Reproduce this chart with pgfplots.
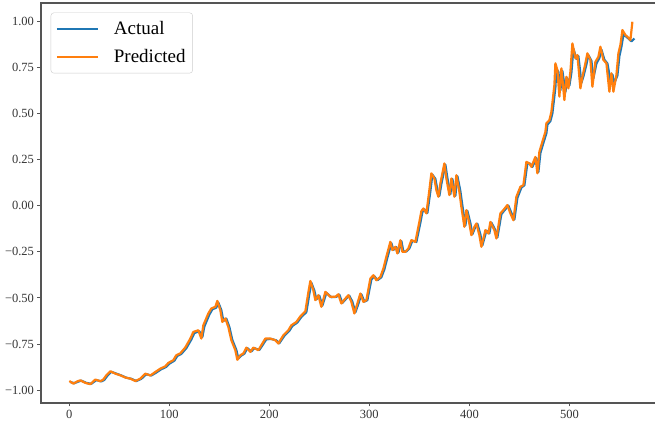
\documentclass[border=0pt]{standalone}
\usepackage{fontspec}
\setmainfont{Liberation Serif}
\usepackage{pgfplots}
\usepackage{pgfplotstable}
\pgfplotsset{compat=1.18}
\definecolor{tabblue}{HTML}{1F77B4}
\definecolor{taborange}{HTML}{FF7F0E}
\definecolor{spine}{HTML}{555555}

\pgfplotstableread{
x y
1 -0.955
5 -0.962
9 -0.953
12 -0.948
17 -0.960
22 -0.965
27 -0.945
32 -0.952
35 -0.944
38 -0.922
42 -0.900
47 -0.910
52 -0.920
57 -0.932
62 -0.938
67 -0.950
72 -0.938
77 -0.913
82 -0.920
87 -0.904
92 -0.886
97 -0.873
100 -0.856
105 -0.840
108 -0.814
112 -0.803
117 -0.772
122 -0.725
125 -0.690
130 -0.680
133 -0.712
135 -0.655
140 -0.590
143 -0.562
147 -0.552
149 -0.525
152 -0.566
154 -0.625
157 -0.612
160 -0.657
163 -0.728
167 -0.782
169 -0.828
172 -0.812
175 -0.802
178 -0.772
182 -0.790
185 -0.772
190 -0.782
197 -0.724
202 -0.722
207 -0.730
210 -0.745
215 -0.705
220 -0.678
223 -0.652
228 -0.633
232 -0.603
237 -0.577
240 -0.478
242 -0.418
245 -0.460
247 -0.508
250 -0.488
253 -0.542
257 -0.472
262 -0.496
267 -0.494
270 -0.482
273 -0.527
277 -0.503
280 -0.488
283 -0.520
286 -0.578
289 -0.532
292 -0.480
295 -0.520
298 -0.512
302 -0.400
305 -0.382
308 -0.404
312 -0.388
315 -0.345
318 -0.282
322 -0.203
324 -0.240
327 -0.225
329 -0.255
332 -0.192
334 -0.248
337 -0.248
340 -0.232
343 -0.190
347 -0.197
349 -0.145
351 -0.092
353 -0.035
355 -0.020
358 -0.040
361 0.078
363 0.168
366 0.145
368 0.086
370 0.052
372 0.118
376 0.222
378 0.150
381 0.062
383 0.145
386 0.053
388 0.160
391 0.078
393 0.000
396 -0.108
398 -0.028
401 -0.095
403 -0.155
406 -0.115
408 -0.098
411 -0.156
413 -0.215
417 -0.135
420 -0.150
422 -0.092
426 -0.133
428 -0.172
432 -0.046
435 -0.026
439 0.000
442 -0.040
445 -0.075
448 0.042
452 0.098
455 0.110
458 0.230
461 0.226
463 0.210
467 0.258
469 0.182
471 0.285
474 0.340
477 0.392
478 0.438
481 0.458
483 0.500
486 0.640
487 0.740
489 0.725
491 0.625
493 0.730
496 0.615
498 0.690
500 0.650
502 0.720
504 0.850
507 0.795
509 0.810
512 0.665
514 0.700
517 0.765
519 0.815
522 0.785
524 0.690
527 0.770
530 0.800
532 0.845
535 0.790
538 0.770
541 0.680
543 0.710
545 0.665
548 0.705
550 0.810
552 0.860
554 0.925
557 0.915
559 0.905
562 0.890
565 0.905
}\actualtable

\pgfplotstableread{
x y
0 -0.950
4 -0.964
8 -0.952
11 -0.946
16 -0.960
21 -0.967
26 -0.942
31 -0.951
34 -0.942
37 -0.919
41 -0.897
46 -0.910
51 -0.919
56 -0.931
61 -0.937
66 -0.950
71 -0.937
76 -0.910
81 -0.920
86 -0.901
91 -0.883
96 -0.870
99 -0.852
104 -0.837
107 -0.810
111 -0.800
116 -0.768
121 -0.720
124 -0.684
129 -0.675
132 -0.720
134 -0.648
139 -0.584
142 -0.557
146 -0.548
148 -0.516
151 -0.566
153 -0.630
156 -0.611
159 -0.657
162 -0.729
166 -0.783
168 -0.835
171 -0.810
174 -0.801
177 -0.769
181 -0.792
184 -0.769
189 -0.783
196 -0.720
201 -0.720
206 -0.729
209 -0.747
214 -0.702
219 -0.675
222 -0.648
227 -0.630
231 -0.600
236 -0.572
239 -0.470
241 -0.408
244 -0.458
246 -0.512
249 -0.485
252 -0.548
256 -0.467
261 -0.494
266 -0.494
269 -0.480
272 -0.530
276 -0.503
279 -0.485
282 -0.521
285 -0.584
288 -0.530
291 -0.476
294 -0.521
297 -0.512
301 -0.395
304 -0.377
307 -0.404
311 -0.386
314 -0.341
317 -0.277
321 -0.196
323 -0.241
326 -0.223
328 -0.259
331 -0.187
333 -0.250
336 -0.250
339 -0.232
342 -0.187
346 -0.196
348 -0.142
350 -0.088
352 -0.030
354 -0.015
357 -0.042
360 0.084
362 0.175
365 0.147
367 0.084
369 0.048
371 0.120
375 0.229
377 0.147
380 0.057
382 0.147
385 0.048
387 0.165
390 0.075
392 -0.007
395 -0.115
397 -0.024
400 -0.097
402 -0.160
405 -0.115
407 -0.097
410 -0.160
412 -0.223
416 -0.133
419 -0.151
421 -0.088
425 -0.133
427 -0.178
431 -0.042
434 -0.024
438 0.003
441 -0.042
444 -0.079
447 0.048
451 0.102
454 0.111
457 0.237
460 0.229
462 0.210
466 0.264
468 0.175
470 0.292
473 0.346
476 0.400
477 0.446
480 0.463
482 0.508
485 0.653
486 0.771
488 0.734
490 0.590
492 0.744
495 0.572
497 0.698
499 0.635
501 0.725
503 0.879
506 0.798
508 0.816
511 0.635
513 0.698
516 0.771
518 0.825
521 0.789
523 0.644
526 0.779
529 0.806
531 0.861
534 0.789
537 0.771
540 0.617
542 0.717
544 0.617
547 0.707
549 0.825
551 0.870
553 0.951
556 0.924
558 0.915
561 0.897
563 0.996
}\predtable

\begin{document}
\begin{tikzpicture}
\begin{axis}[
  at={(0pt,0pt)}, anchor=south west,
  scale only axis,
  width=614pt, height=400pt,
  xmin=-28.3, xmax=585.6,
  ymin=-1.069, ymax=1.0976,
  clip=false,
  axis line style={draw=none},
  tick align=outside,
  major tick length=3.5pt,
  tick style={spine, line width=0.9pt},
  xtick={0,100,200,300,400,500},
  xticklabels={0,100,200,300,400,500},
  ytick={-1,-0.75,-0.5,-0.25,0,0.25,0.5,0.75,1},
  yticklabels={−1.00,−0.75,−0.50,−0.25,0.00,0.25,0.50,0.75,1.00},
  xtick pos=bottom, ytick pos=left,
  ticklabel style={font=\fontsize{12.5}{14}\selectfont, text=black!80},
  legend cell align=left,
  legend style={at={(0.0158,0.976)}, anchor=north west,
    draw=black!20, rounded corners=3pt, fill=white,
    font=\fontsize{19}{22}\selectfont,
    inner xsep=5pt, inner ysep=7pt, row sep=9pt, column sep=13pt,
    nodes={inner sep=2pt}},
  legend image code/.code={\draw[#1, line width=2pt] (0pt,0pt) -- (41pt,0pt);},
]
\addplot[tabblue, line width=2.2pt, line join=round] table[x=x,y=y]{\actualtable};
\addlegendentry{Actual}
\addplot[taborange, line width=2.2pt, line join=round] table[x=x,y=y]{\predtable};
\addlegendentry{Predicted}
\draw[spine, line width=1.2pt] (rel axis cs:1,1) -- (rel axis cs:0,1) -- (rel axis cs:0,0) -- (rel axis cs:1,0);
\end{axis}
\pgfresetboundingbox
\path (-41pt,-22pt) rectangle (614pt,403pt);
\end{tikzpicture}
\end{document}
